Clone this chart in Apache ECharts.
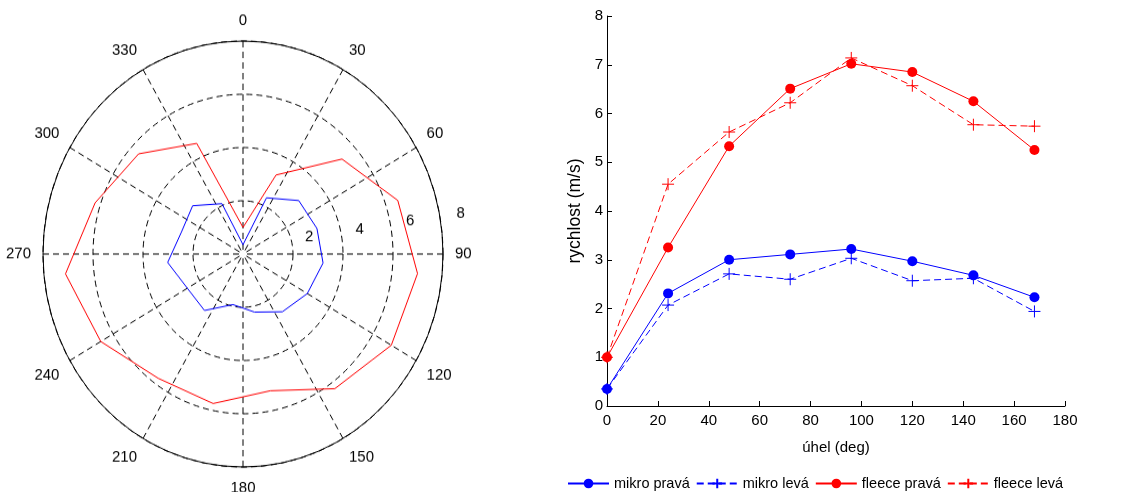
<!DOCTYPE html>
<html>
<head>
<meta charset="utf-8">
<script src="https://cdn.jsdelivr.net/npm/echarts@6/dist/echarts.min.js"></script>
<style>
  html, body { margin: 0; padding: 0; background: #fff; overflow: hidden; }
  #polar { position: absolute; left: 0; top: 0; width: 520px; height: 492px;
           transform-origin: 243px 254px; transform: scaleY(1.065); }
  #line { position: absolute; left: 520px; top: 0; width: 613px; height: 492px; }
</style>
</head>
<body>
<div id="polar"></div>
<div id="line"></div>
<script>
// measured angles (deg) and speeds (m/s)
const angleDeg = [0, 24, 48, 72, 96, 120, 144, 168];
const mikroPrava = [0.35, 2.31, 3.0, 3.11, 3.22, 2.97, 2.68, 2.23];
const mikroLeva = [0.35, 2.07, 2.71, 2.6, 3.03, 2.57, 2.62, 1.94];
const fleecePrava = [1.0, 3.25, 5.33, 6.51, 7.02, 6.85, 6.25, 5.25];
const fleeceLeva = [1.0, 4.55, 5.62, 6.22, 7.14, 6.57, 5.77, 5.74];
const seriesNames = ['mikro pravá', 'mikro levá', 'fleece pravá', 'fleece levá'];
const radiusTicks = [2, 4, 6, 8];

const font = 'Liberation Sans, Arial, Helvetica, sans-serif';
const plusSymbol = 'path://M5 0 L5 10 M0 5 L10 5';

// right side at angle a, left side mirrored to 360 - a
function polarData(prava, leva) {
  const right = angleDeg.map((a, i) => [prava[i], a]);
  const left = angleDeg.map((a, i) => [leva[i], 360 - a]).reverse();
  return right.concat(left);
}

const dashed = { color: '#000', width: 1, type: [6, 4] };

const polarChart = echarts.init(document.getElementById('polar'));
polarChart.setOption({
  animation: false,
  textStyle: { fontFamily: font },
  polar: [
    { center: [243, 254], radius: 200 },
    { center: [243, 254], radius: 225 }
  ],
  angleAxis: [
    {
      polarIndex: 0, type: 'value', min: 0, max: 360, interval: 30,
      startAngle: 90, clockwise: true,
      axisLine: { lineStyle: { color: '#000', width: 1 } },
      axisTick: { show: false },
      axisLabel: { margin: 12, fontSize: 15, color: '#000',
        formatter: v => (v === 360 ? '' : String(v)) },
      splitLine: { show: true, lineStyle: dashed }
    },
    {
      // only carries the radius labels, slightly above the 90 spoke
      polarIndex: 1, type: 'value', min: 0, max: 360, startAngle: 8, show: false
    }
  ],
  radiusAxis: [
    {
      polarIndex: 0, type: 'value', min: 0, max: 8, interval: 2,
      axisLine: { show: false }, axisTick: { show: false }, axisLabel: { show: false },
      splitLine: { show: true, lineStyle: dashed }
    },
    {
      polarIndex: 1, type: 'value', min: -0.82, max: 8,
      axisLine: { show: false }, axisTick: { show: false }, splitLine: { show: false },
      axisLabel: { customValues: radiusTicks, margin: 6.5, fontSize: 15, color: '#000' }
    }
  ],
  series: [
    { type: 'line', coordinateSystem: 'polar', polarIndex: 0, showSymbol: false,
      data: polarData(mikroPrava, mikroLeva), lineStyle: { color: '#0000ff', width: 1 } },
    { type: 'line', coordinateSystem: 'polar', polarIndex: 0, showSymbol: false,
      data: polarData(fleecePrava, fleeceLeva), lineStyle: { color: '#ff0000', width: 1 } }
  ]
});

function pairs(vals) { return angleDeg.map((a, i) => [a, vals[i]]); }

function lineSeries(name, vals, color, solid) {
  return {
    name, type: 'line', data: pairs(vals),
    symbol: solid ? 'circle' : plusSymbol,
    symbolSize: solid ? 10 : 12,
    itemStyle: solid ? { color } : { color, borderColor: color, borderWidth: 1 },
    lineStyle: { color, width: 1, type: solid ? 'solid' : [7, 4] }
  };
}

const lineChart = echarts.init(document.getElementById('line'));
lineChart.setOption({
  animation: false,
  textStyle: { fontFamily: font },
  grid: { left: 87, top: 16, width: 458, height: 390 },
  legend: {
    left: 42, top: 471, itemWidth: 41, itemHeight: 12, itemGap: 6,
    textStyle: { fontSize: 14.5, color: '#000' },
    data: seriesNames
  },
  xAxis: {
    type: 'value', min: 0, max: 180, interval: 20,
    name: 'úhel (deg)', nameLocation: 'middle', nameGap: 34,
    nameTextStyle: { fontSize: 15, color: '#000' },
    axisLine: { lineStyle: { color: '#000', width: 1 } },
    axisTick: { inside: true, length: 5, lineStyle: { color: '#000' } },
    axisLabel: { fontSize: 15, color: '#000', margin: 7 },
    splitLine: { show: false }
  },
  yAxis: {
    type: 'value', min: 0, max: 8, interval: 1,
    name: 'rychlost (m/s)', nameLocation: 'middle', nameGap: 23,
    nameTextStyle: { fontSize: 17.5, color: '#000' },
    axisLine: { show: true, lineStyle: { color: '#000', width: 1 } },
    axisTick: { show: true, inside: true, length: 5, lineStyle: { color: '#000' } },
    axisLabel: { fontSize: 15, color: '#000', margin: 4 },
    splitLine: { show: false }
  },
  series: [
    lineSeries(seriesNames[0], mikroPrava, '#0000ff', true),
    lineSeries(seriesNames[1], mikroLeva, '#0000ff', false),
    lineSeries(seriesNames[2], fleecePrava, '#ff0000', true),
    lineSeries(seriesNames[3], fleeceLeva, '#ff0000', false)
  ]
});
</script>
</body>
</html>
